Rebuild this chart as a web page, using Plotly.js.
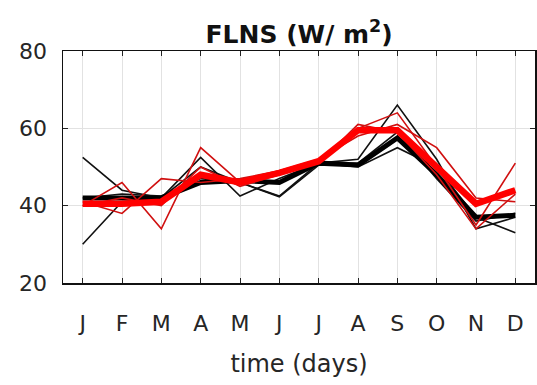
<!DOCTYPE html>
<html>
<head>
<meta charset="utf-8">
<script src="https://cdn.plot.ly/plotly-3.0.1.min.js"></script>
<style>html,body{margin:0;padding:0;background:#fff;}#chart{width:537px;height:385px;}</style>
</head>
<body>
<div id="chart"></div>
<script>
const months = ['J','F','M','A','M','J','J','A','S','O','N','D'];
const monthIndex = [0,1,2,3,4,5,6,7,8,9,10,11];

// thin black members
const black1 = [52.5, 44, 42, 52.5, 42.5, 47, 51, 52, 66, 52, 34, 37];
const black2 = [30, 41, 42, 50, 46, 42.5, 51, 50, 55, 50, 37, 33];
const black3 = [42, 43, 42.5, 47, 46, 42.3, 50.5, 51, 59, 47, 36, 38];
// thick black mean
const blackMean = [42, 42, 42, 46, 46.5, 46, 51, 50.5, 57.5, 48, 37, 37.5];

// thin red members
const red1 = [40, 46, 34, 55, 46, 49, 51.5, 60, 64, 50, 35, 51];
const red2 = [41, 38, 47, 46, 47, 49, 52, 58, 61, 55, 42, 41];
const red3 = [40, 42, 40, 50, 45, 48, 51, 61, 59, 48, 34, 43];
// thick red mean
const redMean = [40.5, 40.5, 41, 48, 46, 48.5, 51.5, 59.5, 59.5, 50, 40.5, 44];

const yTicks = [20, 40, 60, 80];

function tr(y, color, width) {
  return {x: monthIndex, y: y, type: 'scatter', mode: 'lines',
          line: {color: color, width: width}, hoverinfo: 'skip', showlegend: false};
}

const data = [
  tr(black1, '#111', 1.6),
  tr(black2, '#111', 1.6),
  tr(black3, '#111', 1.6),
  tr(blackMean, '#000', 5),
  tr(red1, '#d01010', 1.6),
  tr(red2, '#d01010', 1.6),
  tr(red3, '#d01010', 1.6),
  tr(redMean, '#ff0000', 6.5)
];

const font = {family: 'DejaVu Sans, sans-serif', color: '#262626', size: 21};

const layout = {
  width: 537, height: 385,
  margin: {l: 63, r: 2, t: 51, b: 102},
  paper_bgcolor: '#fff', plot_bgcolor: '#fff',
  font: font,
  title: {text: '<b>FLNS (W/ m<sup>2</sup>)</b>', x: 0.557, xanchor: 'center', y: 0.912, yanchor: 'middle',
          font: {family: 'DejaVu Sans, sans-serif', size: 25, color: '#111'}},
  xaxis: {
    range: [-0.5, 11.5], tickvals: monthIndex, ticktext: months,
    ticks: 'inside', ticklen: 5, tickcolor: '#222', mirror: 'ticks',
    showline: true, linecolor: '#111', linewidth: 1.5,
    showgrid: true, gridcolor: '#e2e2e2', gridwidth: 1,
    zeroline: false, ticklabelstandoff: 20,
    tickfont: {size: 22, color: '#262626'},
    title: {text: 'time (days)', standoff: 20, font: {size: 24, color: '#262626'}}
  },
  yaxis: {
    range: [20, 80], tickvals: yTicks,
    ticks: 'inside', ticklen: 5, tickcolor: '#222', mirror: 'ticks',
    showline: true, linecolor: '#111', linewidth: 1.5,
    showgrid: true, gridcolor: '#e2e2e2', gridwidth: 1,
    zeroline: false, ticklabelstandoff: 10,
    tickfont: {size: 22, color: '#262626'}
  }
};

Plotly.newPlot('chart', data, layout, {staticPlot: true, displayModeBar: false});
</script>
</body>
</html>
